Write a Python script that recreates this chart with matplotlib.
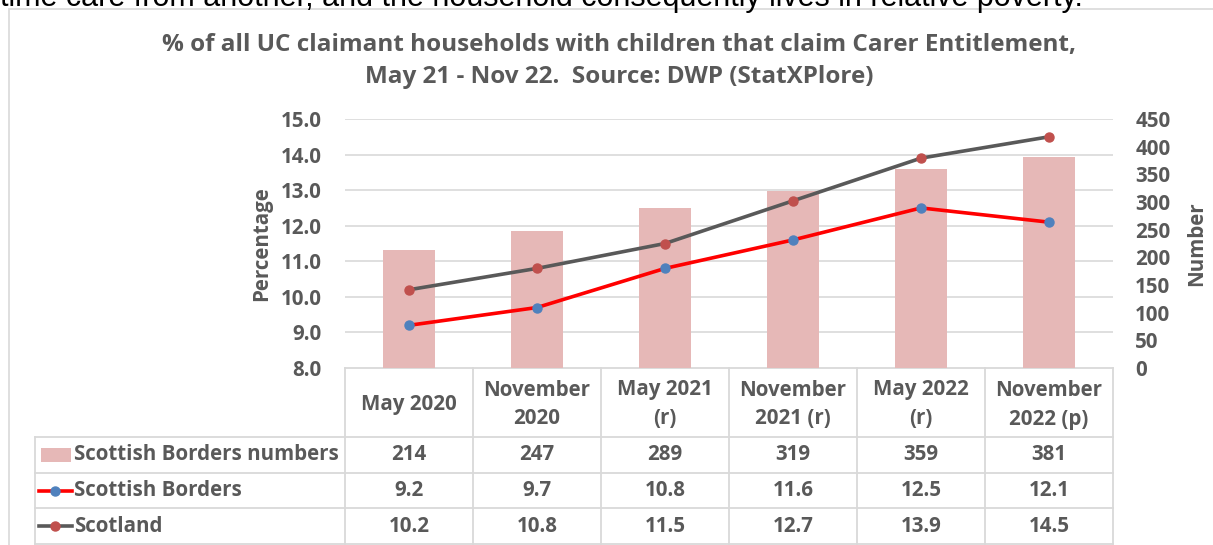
import matplotlib
matplotlib.use("Agg")
import matplotlib.pyplot as plt
from matplotlib.lines import Line2D
from matplotlib.patches import Rectangle

categories = ["May 2020", "November\n2020", "May 2021\n(r)", "November\n2021 (r)", "May 2022\n(r)", "November\n2022 (p)"]
borders_numbers = [214, 247, 289, 319, 359, 381]
borders_pct = [9.2, 9.7, 10.8, 11.6, 12.5, 12.1]
scotland_pct = [10.2, 10.8, 11.5, 12.7, 13.9, 14.5]
left_ticks = [8.0, 9.0, 10.0, 11.0, 12.0, 13.0, 14.0, 15.0]
right_ticks = [0, 50, 100, 150, 200, 250, 300, 350, 400, 450]
series_names = ["Scottish Borders numbers", "Scottish Borders", "Scotland"]

W, H = 1213, 545
FONT = ["Open Sans", "DejaVu Sans"]
GREY = "#595959"
GRID = "#D9D9D9"
BAR = "#E6B8B7"
RED = "#FF0000"
BLUE = "#4F81BD"
DARK = "#595959"
BROWN = "#C0504D"
FS = 14.8
TFS = 17.5

plt.rcParams["font.family"] = FONT
fig = plt.figure(figsize=(W / 100, H / 100), dpi=100)

def fx(px):
    return px / W

def fy(py):
    return 1 - py / H

# overlay axes in pixel coordinates
ov = fig.add_axes([0, 0, 1, 1])
ov.set_xlim(0, W)
ov.set_ylim(H, 0)
ov.axis("off")

# chart frame
ov.add_patch(Rectangle((9, 9), W + 20, H + 20, fill=True, facecolor="white",
                       edgecolor="#D9D9D9", lw=1.2, zorder=0))

# clipped text from surrounding document
ov.text(0, 6, "time care from another, and the household consequently lives in relative poverty.",
        fontsize=22, family=["Liberation Sans"], color="black", va="baseline", ha="left", zorder=10)

# Title
ov.text(619, 45, "% of all UC claimant households with children that claim Carer Entitlement,",
        ha="center", va="center", fontsize=TFS, fontweight="bold", color=GREY)
ov.text(619, 77, "May 21 - Nov 22.  Source: DWP (StatXPlore)",
        ha="center", va="center", fontsize=TFS, fontweight="bold", color=GREY)

# main axes
x0, x1, ytop, ybot = 345, 1113, 119, 368
ax = fig.add_axes([fx(x0), fy(ybot), fx(x1) - fx(x0), fy(ytop) - fy(ybot)])
ax2 = ax.twinx()
ax.set_zorder(ax2.get_zorder() + 1)
ax.patch.set_visible(False)

xs = list(range(len(categories)))
ax2.bar(xs, borders_numbers, width=0.4, color=BAR, zorder=2)
ax2.set_ylim(0, 450)
ax2.set_yticks(right_ticks)
ax2.set_yticklabels([str(t) for t in right_ticks])

ax.plot(xs, borders_pct, color=RED, lw=2.6, marker="o", markersize=6.5,
        markerfacecolor=BLUE, markeredgecolor=BLUE, zorder=4)
ax.plot(xs, scotland_pct, color=DARK, lw=2.6, marker="o", markersize=6.5,
        markerfacecolor=BROWN, markeredgecolor=BROWN, zorder=4)
ax.set_ylim(8, 15)
ax.set_xlim(-0.5, len(categories) - 0.5)
ax.set_yticks(left_ticks)
ax.set_yticklabels([f"{t:.1f}" for t in left_ticks])
ax.set_xticks([])

for t in left_ticks[1:]:
    ax2.axhline((t - 8) / 7 * 450, color=GRID, lw=1.2, zorder=1)

for a in (ax, ax2):
    for s in a.spines.values():
        s.set_visible(False)
    a.tick_params(axis="y", length=0, labelsize=FS, labelcolor=GREY)
    for lab in a.get_yticklabels():
        lab.set_fontweight("bold")
ax.tick_params(axis="y", pad=17)
ax2.tick_params(axis="y", pad=16)

ax.set_ylabel("Percentage", fontsize=FS, fontweight="bold", color=GREY, labelpad=6)
ax2.set_ylabel("Number", fontsize=FS, fontweight="bold", color=GREY, labelpad=11)

# data table
tl = 35
rows = [368, 437, 473, 508, 544]
colw = (x1 - x0) / len(categories)
cols = [x0 + i * colw for i in range(len(categories) + 1)]
lc = "#D9D9D9"
ov.plot([x0, x1], [rows[0], rows[0]], color=lc, lw=1.3)
for r in rows[1:]:
    ov.plot([tl, x1], [r, r], color=lc, lw=1.3)
ov.plot([tl, tl], [rows[1], rows[-1]], color=lc, lw=1.3)
for c in cols:
    ov.plot([c, c], [rows[0], rows[-1]], color=lc, lw=1.3)

for i, cat in enumerate(categories):
    cx = (cols[i] + cols[i + 1]) / 2
    ov.text(cx, (rows[0] + rows[1]) / 2 + 2, cat, ha="center", va="center", fontsize=FS,
            fontweight="bold", color=GREY, linespacing=1.5)

row_values = [[str(v) for v in borders_numbers],
              [f"{v:.1f}" for v in borders_pct],
              [f"{v:.1f}" for v in scotland_pct]]
for r, (name, vals) in enumerate(zip(series_names, row_values)):
    cy = (rows[r + 1] + rows[r + 2]) / 2
    ov.text(74, cy, name, ha="left", va="center", fontsize=FS, fontweight="bold", color=GREY)
    for i, v in enumerate(vals):
        cx = (cols[i] + cols[i + 1]) / 2
        ov.text(cx, cy, v, ha="center", va="center", fontsize=FS, fontweight="bold", color=GREY)

# legend keys
cy0 = (rows[1] + rows[2]) / 2
ov.add_patch(Rectangle((41, cy0 - 7), 30, 14, facecolor=BAR, edgecolor="none"))
cy1 = (rows[2] + rows[3]) / 2
ov.add_line(Line2D([39, 72], [cy1, cy1], color=RED, lw=2.6))
ov.plot([55], [cy1], marker="o", markersize=6.5, color=BLUE)
cy2 = (rows[3] + rows[4]) / 2
ov.add_line(Line2D([39, 72], [cy2, cy2], color=DARK, lw=2.6))
ov.plot([55], [cy2], marker="o", markersize=6.5, color=BROWN)

fig.savefig("out.png", dpi=100)
